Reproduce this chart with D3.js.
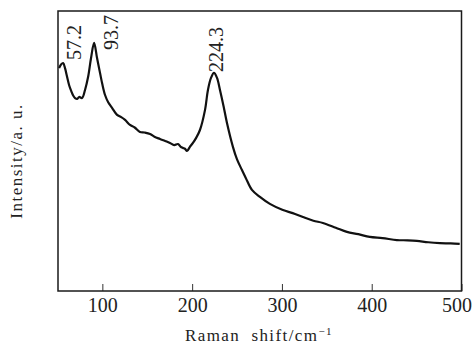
<!DOCTYPE html>
<html lang="en">
<head>
    <meta charset="UTF-8">
    <title>Raman spectrum</title>
    <style>
        body {
            margin: 0;
            background: #fff;
        }

        svg text {
            font-family: "Liberation Serif", "DejaVu Serif", serif;
            fill: #222;
        }

        path {
            fill: none
        }
    </style>
</head>

<body>
    <svg id="chart">
        <g class="xAxis" />
        <g class="body">
            <path class="curve" />
        </g>
    </svg>
</body>

<script src="https://cdn.jsdelivr.net/npm/d3@7/dist/d3.min.js"></script>

<script>
    // Raman shift (cm-1) and intensity (a.u.)
    let shift = [51.8, 54, 56.3, 58.5, 60.7, 63, 65.5, 67.5, 69.6, 72, 74.1, 77.4, 80.7, 84.1, 87.4, 90.8,
        94.1, 97.4, 100, 103, 106.5, 110.8, 116.4, 121, 125.3, 130.8, 136, 141.9, 147, 153.1, 158, 164.2,
        170, 175.3, 180, 184.2, 187, 189.8, 192, 194.3, 197.5, 200.9, 204.3, 208.7, 214.3, 217.6, 221,
        224.3, 227.7, 231, 235, 238.8, 245.5, 250, 255.5, 260, 266.6, 275.5, 286.6, 301.1, 312, 323.4,
        335, 345.6, 360, 372.4, 385, 397.9, 412, 428, 440, 450.3, 463, 476, 488, 498]
    let intensity = [79.6, 80.9, 81.4, 79.5, 76.5, 73.5, 71.3, 69.8, 68.9, 68.6, 69.3, 68.9, 71.8, 76.4, 83.2, 88.6,
        83.2, 77.9, 73.8, 70, 67.4, 65.4, 62.9, 62.1, 61.1, 59.3, 58.4, 56.8, 56.6, 56.1, 55.1, 54.3,
        53.6, 52.9, 52.1, 52.5, 51.6, 51.1, 50.8, 50, 51.5, 52.9, 54.6, 57.5, 64.6, 71.8, 76.1,
        77.9, 76.1, 71.8, 66, 60, 51.4, 47, 43.2, 40.2, 36.1, 33.6, 31.1, 28.9, 27.8, 26.4,
        25.1, 24.3, 22.6, 21.1, 20.3, 19.3, 18.9, 18.2, 18.1, 17.9, 17.4, 17.1, 17, 16.8]

    let xTicks = [100, 200, 300, 400, 500]
    let peakLabels = ["57.2", "93.7", "224.3"]
    let peakShifts = [57.2, 93.7, 224.3]

    let width = 475;
    let height = 349;
    let margin = { left: 58, top: 11, right: 13.5, bottom: 58 }

    let bodyWidth = width - margin.left - margin.right;
    let bodyHeight = height - margin.top - margin.bottom;

    let svg = d3.select("#chart")
        .attr("width", width)
        .attr("height", height)

    let xScale = d3.scaleLinear()
        .range([0, bodyWidth])
        .domain([50.6, 500])

    let yScale = d3.scaleLinear()
        .range([bodyHeight, 0])
        .domain([0, 100])

    let data = shift.map((s, i) => ({ x: s, y: intensity[i] }))

    let lineGenerator = d3.line()
        .x(d => xScale(d.x))
        .y(d => yScale(d.y))
        .curve(d3.curveCatmullRom.alpha(0.5))

    let body = svg.select(".body")
        .attr("transform", `translate(${margin.left},${margin.top})`)

    body.select(".curve").datum(data)
        .attr("d", lineGenerator)
        .style("stroke", "#111")
        .style("stroke-width", 2.2)
        .style("stroke-linejoin", "round")

    // frame
    body.append("rect")
        .attr("width", bodyWidth)
        .attr("height", bodyHeight)
        .style("fill", "none")
        .style("stroke", "#1a1a1a")
        .style("stroke-width", 1.5)

    // ticks point inward, no domain line (frame draws it)
    let xAxis = svg.select(".xAxis")
        .attr("transform", `translate(${margin.left},${height - margin.bottom})`)
        .call(d3.axisBottom(xScale).tickValues(xTicks).tickSizeInner(-7).tickSizeOuter(0).tickPadding(7))
    xAxis.select(".domain").remove()
    xAxis.selectAll(".tick line").style("stroke", "#333").style("stroke-width", 1)
    xAxis.selectAll(".tick text")
        .style("font-family", "'Liberation Serif', serif")
        .style("font-size", "20px")
        .style("fill", "#222")
        .attr("dx", d => d === 500 ? -5 : 0)

    // peak labels, vertical
    let labelDx = [17, 21, 9]
    let labelBottom = [49, 39, 61]
    body.selectAll(".peak")
        .data(peakLabels)
        .enter()
        .append("text")
        .attr("class", "peak")
        .attr("transform", (d, i) => `translate(${xScale(peakShifts[i]) + labelDx[i]},${labelBottom[i]}) rotate(-90)`)
        .style("font-size", "20px")
        .text(d => d)

    // axis titles
    let xTitle = svg.append("text")
        .attr("x", 185)
        .attr("y", 340.5)
        .style("font-size", "17px")
        .style("letter-spacing", "1.4px")
    xTitle.append("tspan").text("Raman\u00a0\u00a0shift/cm")
    xTitle.append("tspan").attr("dy", -6).style("font-size", "11px").text("\u22121")

    svg.append("text")
        .attr("transform", "translate(22,161) rotate(-90)")
        .attr("text-anchor", "middle")
        .style("font-size", "17px")
        .style("letter-spacing", "1.5px")
        .text("Intensity/a.\u00a0u.")
</script>

</html>
